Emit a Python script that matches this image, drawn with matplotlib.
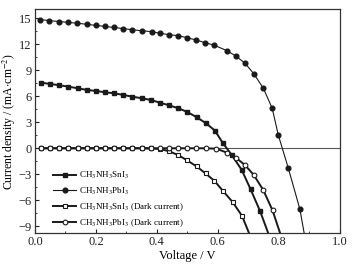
import matplotlib
matplotlib.use("Agg")
import matplotlib.pyplot as plt
from matplotlib.ticker import MultipleLocator

plt.rcParams["font.family"] = "Liberation Serif"
plt.rcParams["mathtext.fontset"] = "stix"

# CH3NH3SnI3 under light
v_sn = [0.020, 0.049, 0.080, 0.109, 0.140, 0.170, 0.200, 0.230, 0.260, 0.290,
        0.320, 0.350, 0.381, 0.410, 0.440, 0.471, 0.500, 0.531, 0.562, 0.591,
        0.616, 0.646, 0.679, 0.708, 0.739, 0.766]
j_sn = [7.57, 7.42, 7.27, 7.11, 6.92, 6.73, 6.61, 6.46, 6.34, 6.15,
        5.95, 5.77, 5.57, 5.26, 4.96, 4.61, 4.19, 3.58, 2.88, 2.03,
        0.65, -0.77, -2.5, -4.73, -7.23, -9.8]

# CH3NH3PbI3 under light
v_pb = [0.016, 0.047, 0.078, 0.108, 0.139, 0.170, 0.200, 0.231, 0.260, 0.290,
        0.320, 0.351, 0.383, 0.411, 0.440, 0.469, 0.498, 0.529, 0.558, 0.589,
        0.630, 0.659, 0.690, 0.719, 0.750, 0.779, 0.799, 0.832, 0.870, 0.884]
j_pb = [14.85, 14.72, 14.62, 14.52, 14.42, 14.3, 14.17, 14.05, 13.93, 13.8,
        13.66, 13.55, 13.45, 13.26, 13.1, 12.99, 12.76, 12.49, 12.18, 11.88,
        11.26, 10.65, 9.8, 8.57, 6.92, 4.61, 1.53, -2.31, -7.04, -9.8]

# dark currents
v_sn_dark = [0.020, 0.050, 0.080, 0.110, 0.140, 0.170, 0.200, 0.230, 0.260, 0.290,
             0.320, 0.350, 0.380, 0.410, 0.441, 0.471, 0.500, 0.531, 0.560, 0.589,
             0.618, 0.649, 0.680, 0.703]
j_sn_dark = [0, 0, 0, 0, 0, 0, 0, 0, 0, 0,
             0, 0, -0.02, -0.08, -0.35, -0.8, -1.4, -2.1, -2.9, -3.75,
             -4.95, -6.2, -7.8, -9.8]

v_pb_dark = [0.020, 0.050, 0.080, 0.110, 0.140, 0.170, 0.200, 0.230, 0.260, 0.290,
             0.320, 0.350, 0.380, 0.410, 0.440, 0.470, 0.500, 0.530, 0.560, 0.596,
             0.630, 0.660, 0.690, 0.719, 0.750, 0.780, 0.805]
j_pb_dark = [0, 0, 0, 0, 0, 0, 0, 0, 0, 0,
             0, 0, 0, 0, 0, 0, 0, 0, 0, -0.05,
             -0.5, -1.1, -1.95, -3.1, -4.85, -7.15, -9.8]

labels = [r"CH$_3$NH$_3$SnI$_3$", r"CH$_3$NH$_3$PbI$_3$",
          r"CH$_3$NH$_3$SnI$_3$ (Dark current)", r"CH$_3$NH$_3$PbI$_3$ (Dark current)"]

fig = plt.figure(figsize=(3.52, 2.65), dpi=100)
ax = fig.add_axes([0.0994, 0.1208, 0.8651, 0.8442])

ax.axhline(0, color="#555555", lw=0.8, zorder=1)

k = "#1a1a1a"
last = slice(0, -1)
ax.plot(v_sn, j_sn, color=k, lw=1.4, marker="s", ms=3.1, mfc=k, mec=k,
        markevery=last, label=labels[0])
ax.plot(v_pb, j_pb, color=k, lw=0.8, marker="o", ms=3.4, mfc=k, mec=k,
        markevery=last, label=labels[1])
ax.plot(v_sn_dark, j_sn_dark, color=k, lw=1.4, marker="s", ms=3.2, mfc="white",
        mec=k, mew=0.8, markevery=last, label=labels[2])
ax.plot(v_pb_dark, j_pb_dark, color=k, lw=1.4, marker="o", ms=3.4, mfc="white",
        mec=k, mew=0.8, markevery=last, label=labels[3])

ax.set_xlim(0, 1.0)
ax.set_ylim(-9.77, 16.03)
ax.xaxis.set_major_locator(MultipleLocator(0.2))
ax.xaxis.set_minor_locator(MultipleLocator(0.1))
ax.yaxis.set_major_locator(MultipleLocator(3))
ax.yaxis.set_minor_locator(MultipleLocator(1.5))
ax.tick_params(which="both", direction="in", labelsize=9, colors="#222222")
ax.tick_params(which="major", length=3, width=0.8, pad=2.5)
ax.tick_params(which="minor", length=1.5, width=0.6)
for s in ax.spines.values():
    s.set_color("#333333")
    s.set_linewidth(0.9)

ax.set_xlabel("Voltage / V", fontsize=9, labelpad=1)
ax.set_ylabel(r"Current density / (mA$\cdot$cm$^{-2}$)", fontsize=8.5, labelpad=0)

ax.legend(loc="center left", bbox_to_anchor=(0.059, 0.15), frameon=False,
          fontsize=6.5, borderpad=0, borderaxespad=0, handlelength=2.6,
          handletextpad=0.3, labelspacing=0.5)

fig.savefig("out.png", dpi=100)
